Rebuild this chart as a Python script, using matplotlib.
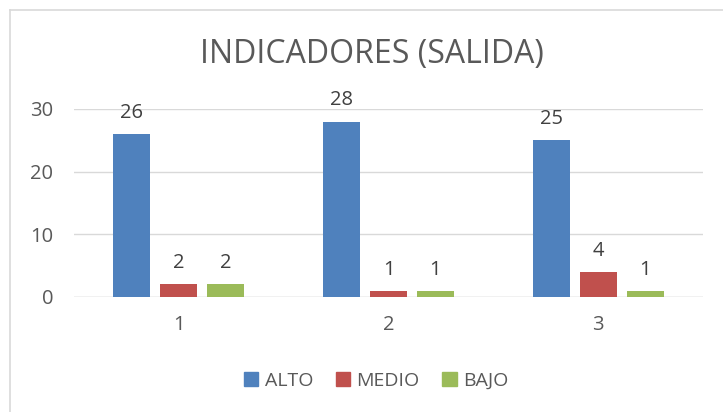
import matplotlib
matplotlib.use("Agg")
import matplotlib.pyplot as plt
from matplotlib.lines import Line2D
from matplotlib.patches import Patch
import numpy as np

categories = ["1", "2", "3"]
series_names = ["ALTO", "MEDIO", "BAJO"]
alto = [26, 28, 25]
medio = [2, 1, 4]
bajo = [2, 1, 1]
yticks = [0, 10, 20, 30]

colors = ["#4F81BD", "#C0504D", "#9BBB59"]
plt.rcParams['font.family'] = ['Open Sans', 'DejaVu Sans']

fig = plt.figure(figsize=(7.23, 4.12), dpi=100)
ax = fig.add_axes([74/723, 1-297/412, (703-74)/723, (297-109)/412])

x = np.arange(len(categories))
w = 0.176
step = 0.224
for i, (vals, name) in enumerate(zip([alto, medio, bajo], series_names)):
    bars = ax.bar(x + (i-1)*step, vals, width=w, color=colors[i], label=name, zorder=3)
    for b, v in zip(bars, vals):
        ax.annotate(str(v), (b.get_x()+b.get_width()/2, v), xytext=(0, 8),
                    textcoords="offset points", ha="center", va="bottom",
                    fontsize=14.5, color="#404040", annotation_clip=False)

ax.set_xlim(-0.5, 2.5)
ax.set_ylim(0, 30)
ax.set_yticks(yticks)
ax.set_xticks(x)
ax.set_xticklabels(categories)
ax.tick_params(axis='both', length=0, labelsize=14.5, colors="#595959")
ax.tick_params(axis='y', pad=15)
ax.tick_params(axis='x', pad=13)
ax.grid(axis='y', color="#D9D9D9", linewidth=1, zorder=0)
for s in ax.spines.values():
    s.set_visible(False)
ax.axhline(0, color="#D9D9D9", linewidth=1, zorder=2)

fig.text(372/723, 1-55/412, "INDICADORES (SALIDA)", ha="center", va="center",
         fontsize=23, color="#595959")

handles = [Patch(color=c) for c in colors]
fig.legend(handles, series_names, loc="center", bbox_to_anchor=(376/723, 1-381/412),
           ncol=3, frameon=False, fontsize=14, handlelength=0.75, handleheight=0.75,
           handletextpad=0.32, columnspacing=1.15, labelcolor="#595959")

# chart border
fig.add_artist(Line2D([10/723, 10/723], [0, 1-10/412], color="#D9D9D9", linewidth=1.2))
fig.add_artist(Line2D([10/723, 1], [1-10/412, 1-10/412], color="#D9D9D9", linewidth=1.2))

fig.savefig("out.png", dpi=100)
